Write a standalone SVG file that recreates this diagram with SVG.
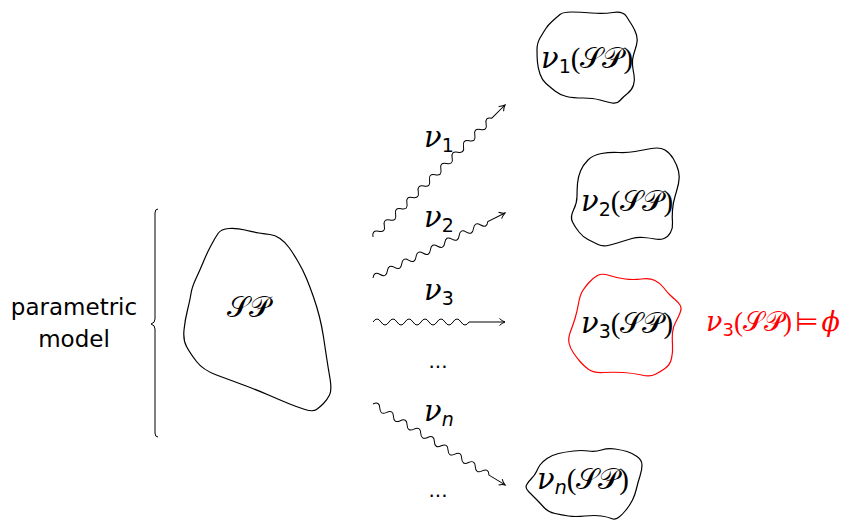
<svg xmlns="http://www.w3.org/2000/svg" width="853" height="522" viewBox="0 0 853 522">
  <defs>
    <marker id="arrow" markerUnits="userSpaceOnUse" markerWidth="10" markerHeight="10" refX="8" refY="5" orient="auto">
      <path d="M2.5,1.5 Q5,4 8,5 Q5,6 2.5,8.5" fill="none" stroke="#000" stroke-width="1"/>
    </marker>
  </defs>
  <style>
    .blob { fill: none; stroke: #000; stroke-width: 1.2; stroke-linejoin: round; }
    .red { stroke: #ff0000; }
    .wave { fill: none; stroke: #000; stroke-width: 1; marker-end: url(#arrow); }
    .txt { font-family: "DejaVu Sans", "Liberation Sans", sans-serif; fill: #000; }
    .m { font-family: "Liberation Serif", "DejaVu Serif", serif; font-size: 29px; fill: #000; }
    .nu { font-family: "DejaVu Serif", "Liberation Serif", serif; font-style: italic; }
    .sub { font-family: "DejaVu Sans", "Liberation Sans", sans-serif; font-size: 19px; }
    .subi { font-family: "DejaVu Sans", "Liberation Sans", sans-serif; font-size: 19px; font-style: italic; }
    .cal { font-family: "DejaVu Sans", "DejaVu Serif", "Noto Sans", sans-serif; }
    .lbl { font-family: "Liberation Serif", "DejaVu Serif", serif; font-size: 29px; fill: #000; }
    .dots { font-family: "DejaVu Sans", sans-serif; font-size: 20px; fill: #000; text-anchor: middle; }
  </style>

  <!-- brace and caption for the whole model -->
  <g id="model-brace">
    <path d="M158,209 Q155,209 155,213 L155,319 Q155,323 151,324 Q155,325 155,329 L155,433 Q155,437 158,437" fill="none" stroke="#000" stroke-width="1"/>
    <text class="txt" font-size="23" text-anchor="middle"><tspan x="74" y="315">parametric</tspan><tspan x="74" y="347">model</tspan></text>
  </g>

  <!-- source set -->
  <g id="sp">
    <path class="blob" d="M218,233.5 Q221,229 229,228.5 Q237,228 245,230 Q253,232 259,233 Q265,234 270,234.5 Q275,235 280,238.5 Q285,242 289,247.5 Q293,253 298,261.5 Q303,270 306.5,278.5 Q310,287 313.5,297 Q317,307 319.5,317 Q322,327 323.5,337 Q325,347 326.5,357 Q328,367 330,378.5 Q332,390 329.5,395 Q327,400 323.5,403.5 Q320,407 316.5,409.5 Q313,412 305,409.5 Q297,407 288.5,403.5 Q280,400 268.5,395 Q257,390 243.5,385 Q230,380 216.5,375 Q203,370 196.5,361.5 Q190,353 186.5,346.5 Q183,340 184,330 Q185,320 187.5,310 Q190,300 191,293.5 Q192,287 196,278.5 Q200,270 203.5,261.5 Q207,253 211,245.5 Q215,238 218,233.5 Z"/>
    <text class="m" x="248" y="317" text-anchor="middle"><tspan class="cal">𝒮𝒫</tspan></text>
  </g>

  <!-- image sets -->
  <g id="nu1-sp">
    <path class="blob" d="M552.5,21 Q557,17 560,14.5 Q563,12 571.5,12 Q580,12 591.5,13 Q603,14 613,12.5 Q623,11 626.5,16.5 Q630,22 632.5,26 Q635,30 636.5,35 Q638,40 636.5,45 Q635,50 633.5,55 Q632,60 632.5,65 Q633,70 634,75 Q635,80 633.5,85 Q632,90 627.5,93.5 Q623,97 620,100.5 Q617,104 612,103 Q607,102 600,100 Q593,98 583,98 Q573,98 566.5,96.5 Q560,95 555,91 Q550,87 546,83.5 Q542,80 540,74 Q538,68 537.5,62.5 Q537,57 537,50 Q537,43 540,38 Q543,33 545.5,29 Q548,25 552.5,21 Z"/>
    <text class="m" x="541" y="68"><tspan class="nu">ν</tspan><tspan class="sub" dy="5">1</tspan><tspan dy="-5">(</tspan><tspan class="cal">𝒮𝒫</tspan>)</text>
  </g>

  <g id="nu2-sp">
    <path class="blob" d="M580.5,171 Q583,165 588,160 Q593,155 601.5,153.5 Q610,152 618.5,152.5 Q627,153 635,151.5 Q643,150 651.5,148.5 Q660,147 665,150 Q670,153 673.5,159 Q677,165 678.5,171 Q680,177 678.5,183.5 Q677,190 675,196.5 Q673,203 672.5,210 Q672,217 672.5,222.5 Q673,228 670.5,232.5 Q668,237 664,238.5 Q660,240 655,239 Q650,238 643.5,237.5 Q637,237 632,238.5 Q627,240 622,241.5 Q617,243 610,245 Q603,247 598,244.5 Q593,242 588,239.5 Q583,237 579,232 Q575,227 572.5,222 Q570,217 573.5,210 Q577,203 577,196.5 Q577,190 577.5,183.5 Q578,177 580.5,171 Z"/>
    <text class="m" x="581" y="211"><tspan class="nu">ν</tspan><tspan class="sub" dy="5">2</tspan><tspan dy="-5">(</tspan><tspan class="cal">𝒮𝒫</tspan>)</text>
  </g>

  <g id="nu3-sp">
    <path class="blob red" d="M589,282.5 Q593,278 597.5,275.5 Q602,273 609.5,275.5 Q617,278 625,279 Q633,280 641.5,279 Q650,278 655,280.5 Q660,283 663.5,287.5 Q667,292 669.5,294.5 Q672,297 675,299.5 Q678,302 680,305 Q682,308 680,313 Q678,318 675.5,322.5 Q673,327 672.5,332.5 Q672,338 672.5,345 Q673,352 671.5,358.5 Q670,365 665,368.5 Q660,372 655,374.5 Q650,377 641.5,375 Q633,373 623,372.5 Q613,372 603,372.5 Q593,373 588,369 Q583,365 580,361.5 Q577,358 573.5,353 Q570,348 569,343 Q568,338 570.5,331.5 Q573,325 575,318.5 Q577,312 578.5,303.5 Q580,295 582.5,291 Q585,287 589,282.5 Z"/>
    <text class="m" x="581" y="333"><tspan class="nu">ν</tspan><tspan class="sub" dy="5">3</tspan><tspan dy="-5">(</tspan><tspan class="cal">𝒮𝒫</tspan>)</text>
  </g>

  <g id="nu3-sat">
    <text class="m" x="706" y="331" style="fill:#ff0000;font-size:27px"><tspan class="nu">ν</tspan><tspan class="sub" dy="5" style="font-size:18px">3</tspan><tspan dy="-5">(</tspan><tspan class="cal">𝒮𝒫</tspan>)<tspan class="cal" dx="3">⊨</tspan><tspan class="nu" dx="3">ϕ</tspan></text>
  </g>

  <g id="nun-sp">
    <path class="blob" d="M536.5,471.5 Q538,468 540,465 Q542,462 547,458.5 Q552,455 558.5,453.5 Q565,452 573.5,451 Q582,450 588.5,451 Q595,452 601.5,450 Q608,448 615,449 Q622,450 627,451.5 Q632,453 637,456.5 Q642,460 642,465 Q642,470 640,476 Q638,482 636.5,488.5 Q635,495 632.5,500 Q630,505 626,510 Q622,515 618.5,517.5 Q615,520 611.5,518.5 Q608,517 601.5,516 Q595,515 585,516 Q575,517 568.5,516 Q562,515 555,513.5 Q548,512 544,507.5 Q540,503 536,499 Q532,495 528.5,491.5 Q525,488 526.5,485 Q528,482 531.5,478.5 Q535,475 536.5,471.5 Z"/>
    <text class="m" x="537" y="489"><tspan class="nu">ν</tspan><tspan class="subi" dy="5">n</tspan><tspan dy="-5">(</tspan><tspan class="cal">𝒮𝒫</tspan>)</text>
  </g>

  <!-- valuation arrows (snake lines) -->
  <g id="connectors">
    <path class="wave" transform="translate(373,237) rotate(-45)" d="M0,0 q4,-6 8,0 t8,0 t8,0 t8,0 t8,0 t8,0 t8,0 t8,0 t8,0 t8,0 t8,0 t8,0 t8,0 t8,0 t8,0 t8,0 t8,0 t8,0 t8,0 t8,0 t8,0 L186.7,0"/>
    <path class="wave" transform="translate(373,278) rotate(-26.2)" d="M0,0 q4,-6 8,0 t8,0 t8,0 t8,0 t8,0 t8,0 t8,0 t8,0 t8,0 t8,0 t8,0 t8,0 t8,0 t8,0 t8,0 t8,0 L147.1,0"/>
    <path class="wave" transform="translate(373,322)" d="M0,0 q4,-6 8,0 t8,0 t8,0 t8,0 t8,0 t8,0 t8,0 t8,0 t8,0 t8,0 t8,0 t8,0 L132,0"/>
    <path class="wave" transform="translate(373,404) rotate(31.5)" d="M0,0 q4,-6 8,0 t8,0 t8,0 t8,0 t8,0 t8,0 t8,0 t8,0 t8,0 t8,0 t8,0 t8,0 t8,0 t8,0 t8,0 t8,0 t8,0 L154.9,0"/>
  </g>

  <!-- arrow labels -->
  <g id="labels">
    <text class="lbl" x="424" y="147"><tspan class="nu">ν</tspan><tspan class="sub" dy="5">1</tspan></text>
    <text class="lbl" x="424" y="227"><tspan class="nu">ν</tspan><tspan class="sub" dy="5">2</tspan></text>
    <text class="lbl" x="424" y="300"><tspan class="nu">ν</tspan><tspan class="sub" dy="5">3</tspan></text>
    <text class="dots" x="438" y="368">...</text>
    <text class="lbl" x="424" y="421"><tspan class="nu">ν</tspan><tspan class="subi" dy="5">n</tspan></text>
    <text class="dots" x="438" y="497">...</text>
  </g>
</svg>
